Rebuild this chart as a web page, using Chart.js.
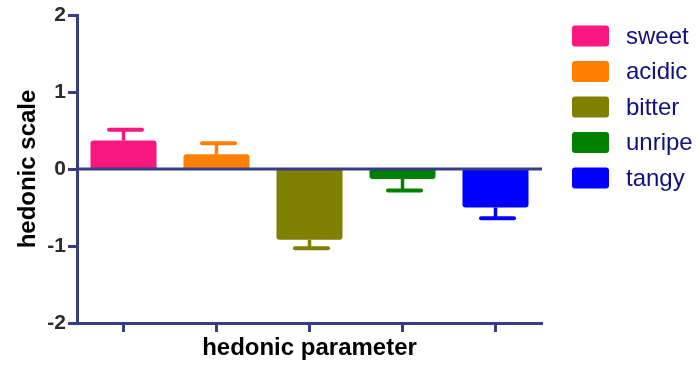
<!DOCTYPE html>
<html>
<head>
<meta charset="utf-8">
<script src="https://cdn.jsdelivr.net/npm/chart.js"></script>
<style>
  body { margin: 0; background: #fff; }
  canvas { display: block; }
</style>
</head>
<body>
<canvas id="myChart" width="700" height="369"></canvas>
<script>
// hedonic means and SEM
const categories = ['sweet', 'acidic', 'bitter', 'unripe', 'tangy'];
const means = [0.37, 0.19, -0.92, -0.13, -0.50];
const errors = [0.14, 0.145, 0.11, 0.15, 0.14];
const barColors = ['#F7177F', '#FF8000', '#808000', '#008000', '#0000FF'];
const yTicks = [-2, -1, 0, 1, 2];

const axisColor = '#363C86';
const fontFamily = "'Liberation Sans', Arial, sans-serif";

// error bars (only away from zero) + zero line on top of bars
const errorBars = {
  id: 'errorBars',
  afterDatasetsDraw(chart) {
    const ctx = chart.ctx;
    const y = chart.scales.y;
    const meta = chart.getDatasetMeta(0);
    ctx.save();
    meta.data.forEach((bar, i) => {
      const v = means[i];
      const end = v >= 0 ? v + errors[i] : v - errors[i];
      const yBar = y.getPixelForValue(v);
      const yEnd = y.getPixelForValue(end);
      const x = bar.x;
      const half = bar.width / 4;
      ctx.strokeStyle = barColors[i];
      ctx.lineWidth = 3.5;
      ctx.lineCap = 'butt';
      ctx.beginPath();
      ctx.moveTo(x, yBar);
      ctx.lineTo(x, yEnd);
      ctx.stroke();
      ctx.lineWidth = 4;
      ctx.lineCap = 'round';
      ctx.beginPath();
      ctx.moveTo(x - half + 2, yEnd);
      ctx.lineTo(x + half + 2, yEnd);
      ctx.stroke();
    });
    const y0 = y.getPixelForValue(0);
    ctx.strokeStyle = axisColor;
    ctx.lineWidth = 3;
    ctx.lineCap = 'butt';
    ctx.beginPath();
    ctx.moveTo(chart.chartArea.left, y0);
    ctx.lineTo(chart.chartArea.right, y0);
    ctx.stroke();
    ctx.restore();
  }
};

const sideLegend = {
  id: 'sideLegend',
  afterDraw(chart) {
    const ctx = chart.ctx;
    ctx.save();
    ctx.font = '24px ' + fontFamily;
    ctx.textBaseline = 'middle';
    categories.forEach((name, i) => {
      const cy = 36 + i * 35.5;
      ctx.fillStyle = barColors[i];
      ctx.beginPath();
      ctx.roundRect(572, cy - 10.5, 37, 21, 3);
      ctx.fill();
      ctx.fillStyle = '#10107F';
      ctx.fillText(name, 626, cy + 1);
    });
    ctx.restore();
  }
};

new Chart(document.getElementById('myChart'), {
  type: 'bar',
  data: {
    labels: categories,
    datasets: [{
      data: means,
      backgroundColor: barColors,
      borderRadius: 3,
      borderSkipped: 'start',
      barPercentage: 0.71,
      categoryPercentage: 1
    }]
  },
  options: {
    responsive: false,
    animation: false,
    layout: { padding: { top: 15, right: 158, left: 0, bottom: 0 } },
    plugins: {
      legend: { display: false },
      tooltip: { enabled: false }
    },
    scales: {
      x: {
        offset: true,
        grid: {
          offset: false,
          drawOnChartArea: false,
          drawTicks: true,
          tickLength: 9,
          tickWidth: 3,
          tickColor: axisColor
        },
        border: { color: axisColor, width: 3 },
        ticks: { display: false },
        title: {
          display: true,
          text: 'hedonic parameter',
          color: '#000',
          font: { family: fontFamily, size: 24, weight: 'bold' },
          padding: { top: 0, bottom: 6 }
        },
        afterFit(scale) { scale.height = 46; }
      },
      y: {
        min: -2,
        max: 2,
        afterBuildTicks(scale) { scale.ticks = yTicks.map(v => ({ value: v })); },
        grid: {
          drawOnChartArea: false,
          drawTicks: true,
          tickLength: 9,
          tickWidth: 3,
          tickColor: axisColor
        },
        border: { color: axisColor, width: 3 },
        ticks: {
          color: '#2c2c2c',
          padding: 2,
          font: { family: fontFamily, size: 21, weight: 'bold' }
        },
        title: {
          display: true,
          text: 'hedonic scale',
          color: '#000',
          font: { family: fontFamily, size: 24, weight: 'bold' },
          padding: { top: 14, bottom: 0 }
        },
        afterFit(scale) { scale.width = 77; }
      }
    }
  },
  plugins: [errorBars, sideLegend]
});
</script>
</body>
</html>
